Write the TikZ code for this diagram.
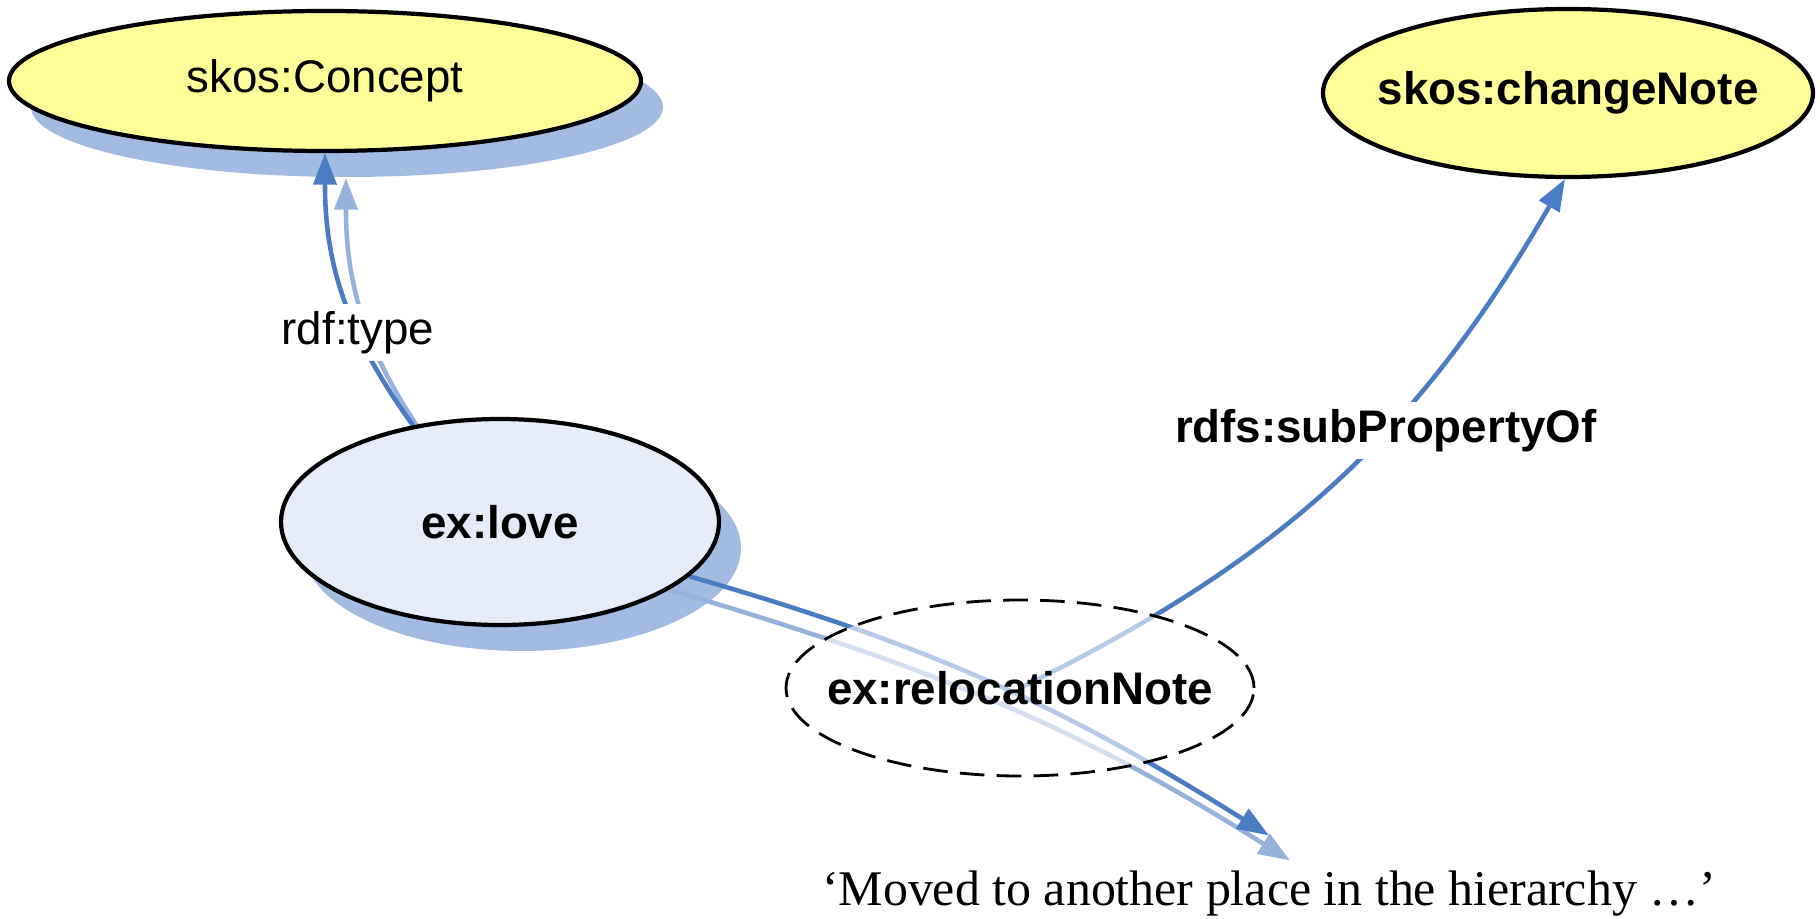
\documentclass[tikz,border=0pt]{standalone}
\usepackage{fontspec}
\setmainfont{Liberation Serif}
\setsansfont{Liberation Sans}
\usetikzlibrary{shapes.geometric,arrows.meta}
\definecolor{skosyellow}{RGB}{255,255,153}
\definecolor{lovefill}{RGB}{229,236,247}
\definecolor{edgeblue}{RGB}{74,124,196}
\definecolor{shadeblue}{RGB}{163,187,224}
\definecolor{faintblue}{RGB}{150,177,219}
\pgfdeclarelayer{shadowlayer}
\pgfdeclarelayer{edgelayer}
\pgfsetlayers{shadowlayer,edgelayer,main}
\begin{document}
\begin{tikzpicture}[x=1mm,y=1mm]
        \tikzstyle{every node}+=[font=\sffamily\fontsize{13}{15}\selectfont]
        \tikzstyle{bold}=[font=\sffamily\bfseries\fontsize{13}{15}\selectfont]
        \tikzstyle{res}=[ellipse, draw=black, line width=1.2pt]
        \tikzstyle{shd}=[ellipse, fill=shadeblue]
        \tikzstyle{link}=[draw=edgeblue, line width=1.3pt, -{Triangle[length=9pt,width=6.5pt]}]
        \tikzstyle{linkshd}=[link, draw=faintblue]
        \tikzstyle{lbl}=[fill=white, inner sep=2pt]
        \useasboundingbox (0,0) rectangle (182,-91.9);
        \node [res, fill=skosyellow, minimum width=63.2mm, minimum height=14mm] (concept) at (32.5,-8.1) {skos:Concept};
        \node [res, bold, fill=skosyellow, inner xsep=-5pt, minimum width=49mm, minimum height=16.8mm] (change) at (156.8,-9.3) {skos:changeNote};
        \node [res, bold, fill=lovefill, minimum width=43.8mm, minimum height=20.6mm] (love) at (50,-52.2) {ex:love};
        \node [ellipse, bold, draw=black, dash pattern=on 7pt off 3.5pt, line width=0.8pt, fill=white, fill opacity=0.6, text opacity=1, inner xsep=-8pt, minimum width=46.8mm, minimum height=17.6mm] (reloc) at (102,-68.8) {ex:relocationNote};
        \node [font=\rmfamily\fontsize{14.2}{17}\selectfont, inner xsep=0pt, inner ysep=10pt] (lit) at (126.9,-89.4) {‘Moved to another place in the hierarchy …’};
        \begin{pgfonlayer}{shadowlayer}
        \node [shd, minimum width=63.2mm, minimum height=14mm] (conceptshd) at (34.7,-10.7) {};
        \node [shd, minimum width=43.8mm, minimum height=20.6mm] (loveshd) at (52.2,-54.8) {};
        \draw [linkshd] ([shift={(2.1,-2.5)}]love.132) to [bend left=18] ([shift={(2.1,-2.5)}]concept.south);
        \draw [linkshd, shorten <=-10mm] ([shift={(2.1,-2.5)}]love.-16) to [bend left=8] ([shift={(2.1,-2.5)}]lit.north);
        \end{pgfonlayer}
        \begin{pgfonlayer}{edgelayer}
        \draw [link] (love.132) to [bend left=18] node [lbl, pos=0.36] (typelbl) {rdf:type} (concept.south);
        \draw [link] (love.-16) to [bend left=8] (lit.north);
        \draw [link] (reloc.center) to [bend right=17] node [lbl, bold, pos=0.6] (subplbl) {rdfs:subPropertyOf} (change.-92);
        \end{pgfonlayer}
\end{tikzpicture}
\end{document}
